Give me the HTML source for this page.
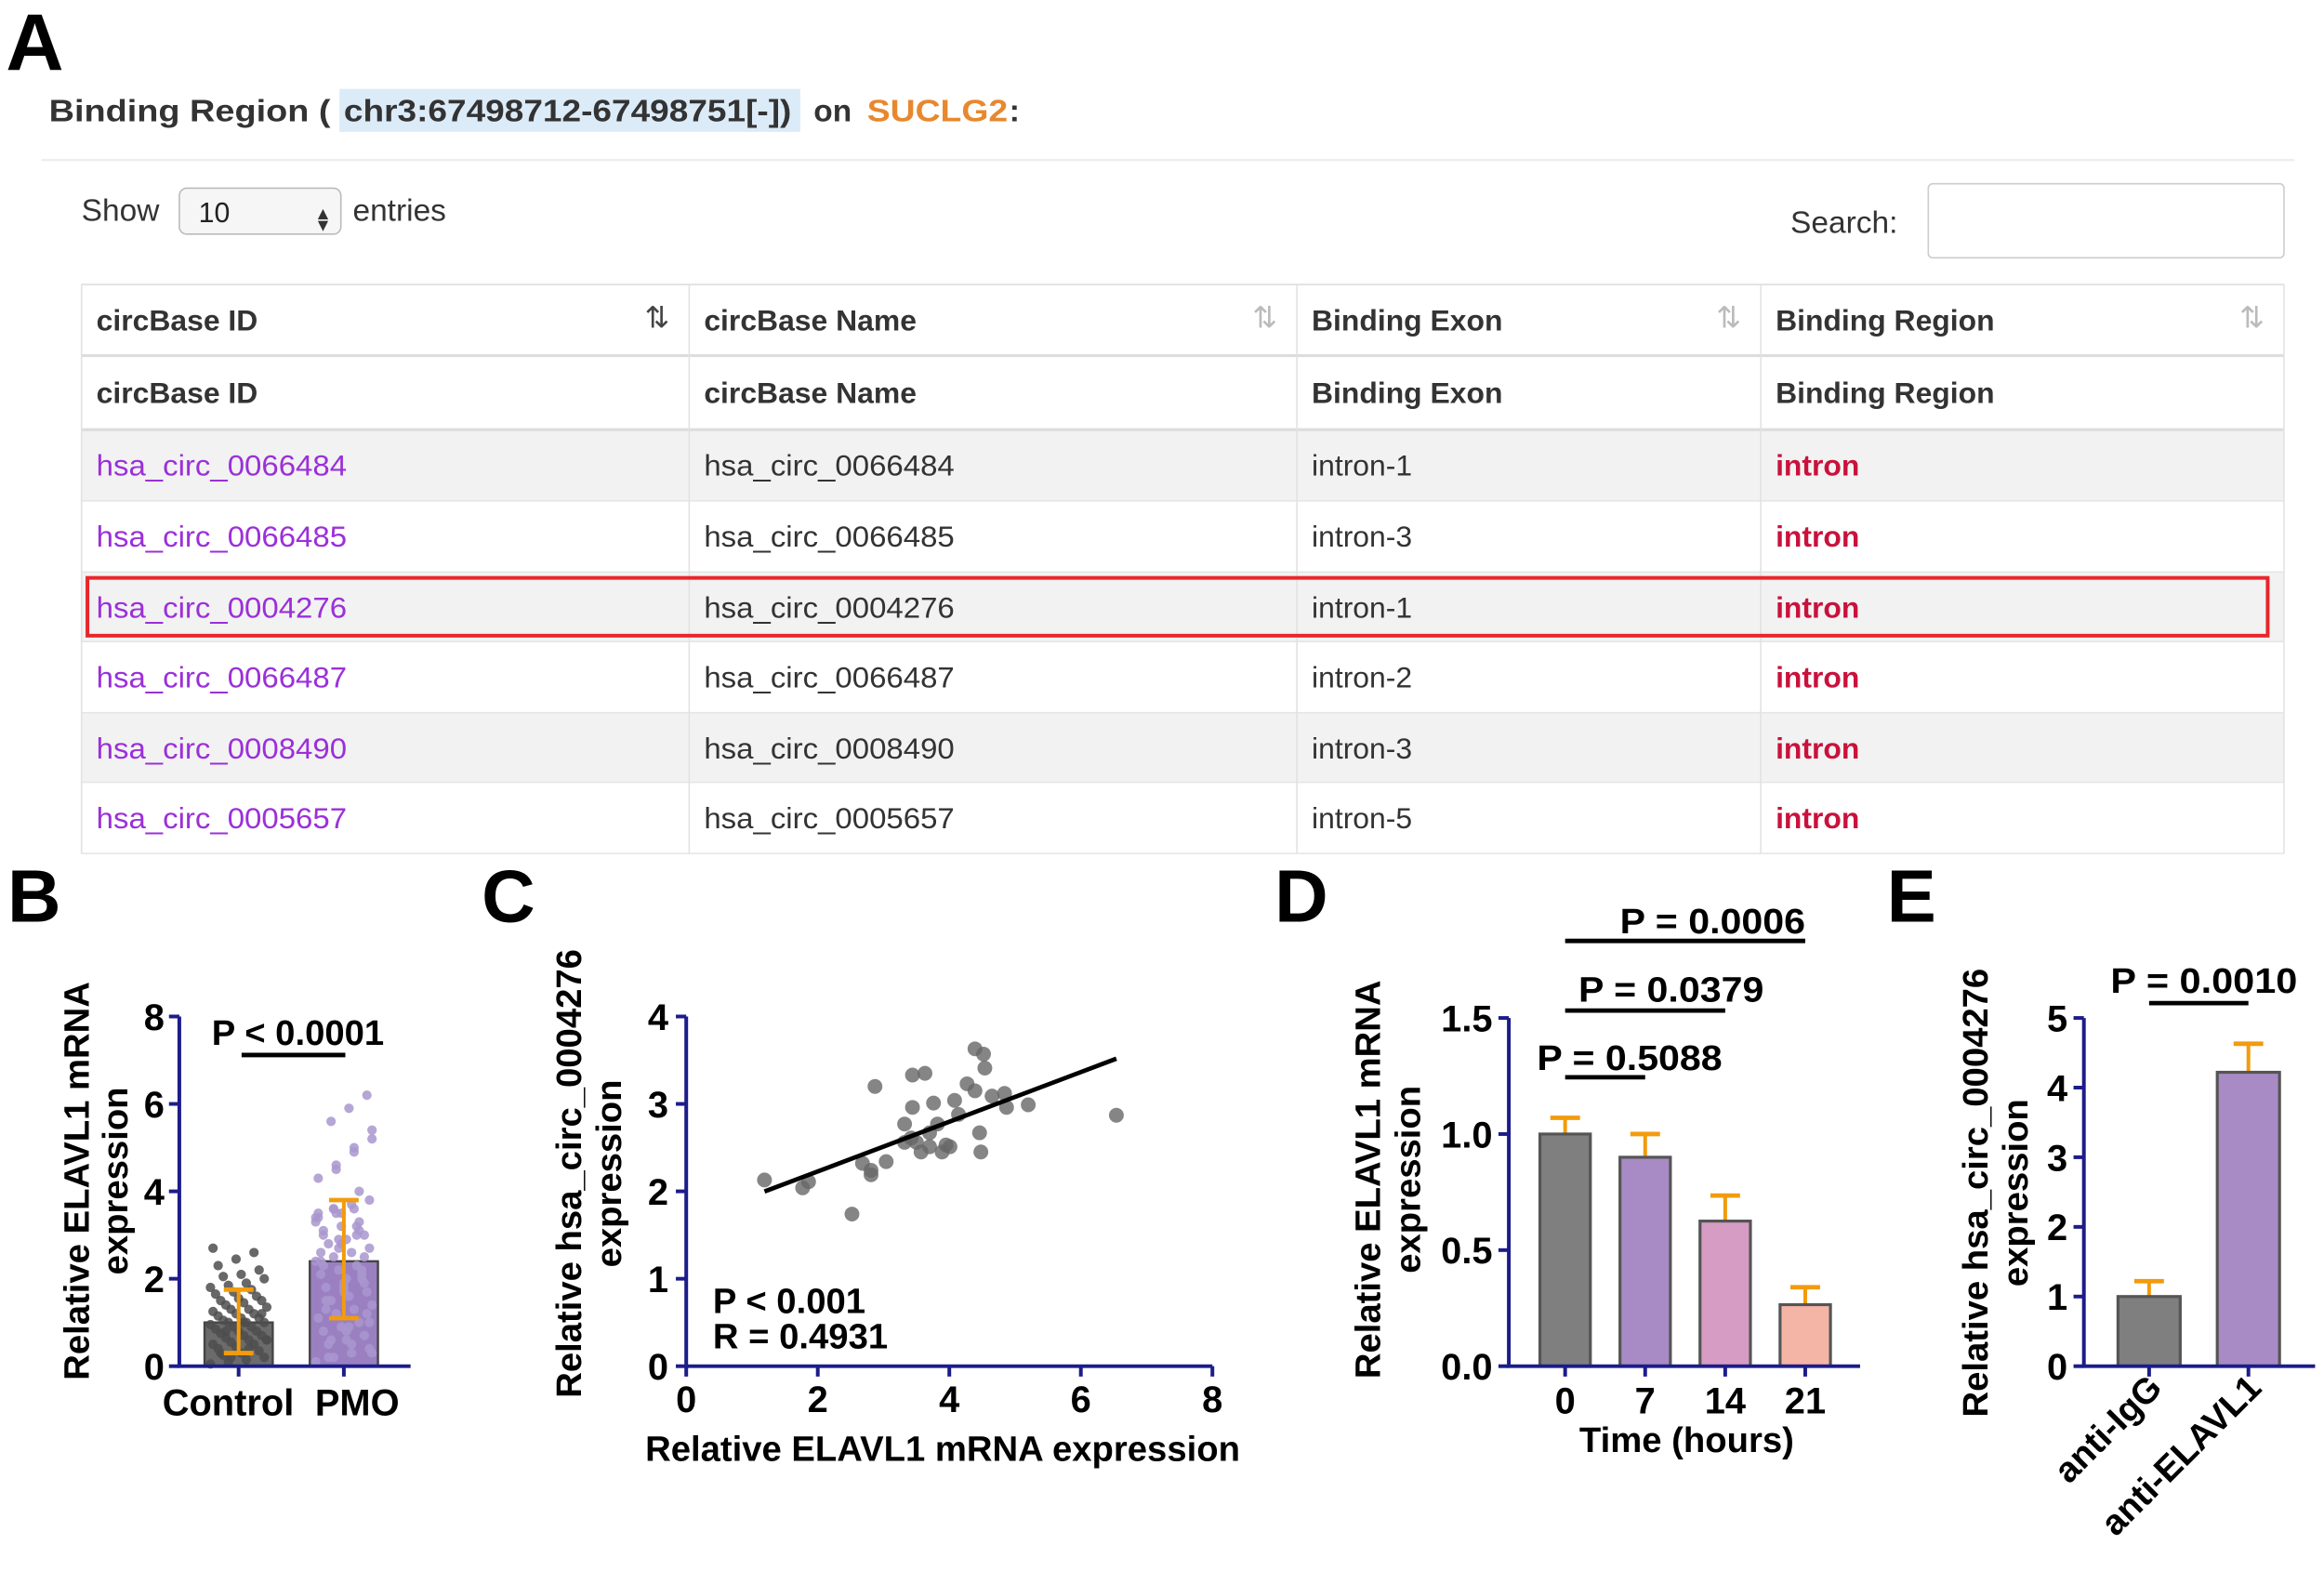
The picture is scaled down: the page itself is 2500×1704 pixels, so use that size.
<!DOCTYPE html>
<html><head><meta charset="utf-8">
<style>
html,body{margin:0;padding:0;background:#fff;}
svg{display:block;font-family:"Liberation Sans",Arial,sans-serif;}
</style></head>
<body>
<svg id="fig" width="2500" height="1704" viewBox="0 0 1568 1069" preserveAspectRatio="none">
<rect x="0" y="0" width="1568" height="1069" fill="#fff"/>
<text x="4" y="47" font-size="54" font-weight="bold" fill="#000">A</text>
<rect x="229" y="60" width="311" height="29" fill="#dcebf8"/>
<text y="82" font-size="21" font-weight="bold" fill="#333"><tspan x="33" textLength="190" lengthAdjust="spacingAndGlyphs">Binding Region (</tspan><tspan x="232" textLength="302" lengthAdjust="spacingAndGlyphs">chr3:67498712-67498751[-])</tspan><tspan x="549">on</tspan><tspan x="585" fill="#e8882e" textLength="95" lengthAdjust="spacingAndGlyphs">SUCLG2</tspan><tspan x="681">:</tspan></text>
<line x1="28" y1="108" x2="1548" y2="108" stroke="#eee" stroke-width="1.5"/>
<text x="55" y="149" font-size="21" fill="#333">Show</text>
<rect x="121" y="127" width="109" height="31" rx="5" fill="#f6f6f6" stroke="#bbb"/>
<text x="134" y="150" font-size="19" fill="#222">10</text>
<text x="212" y="148" font-size="12" fill="#333">▲</text>
<text x="212" y="156" font-size="12" fill="#333">▼</text>
<text x="238" y="149" font-size="21" fill="#333">entries</text>
<text x="1208" y="157" font-size="21" fill="#333">Search:</text>
<rect x="1301" y="124" width="240" height="50" rx="3" fill="#fff" stroke="#ccc"/>
<g id="table"></g>
<text x="5" y="622" font-size="50" font-weight="bold">B</text>
<text x="325" y="622" font-size="50" font-weight="bold">C</text>
<text x="860" y="622" font-size="50" font-weight="bold">D</text>
<text x="1273" y="622" font-size="50" font-weight="bold">E</text>
<g id="chartB"></g>
<g id="chartC"></g>
<g id="chartD"></g>
<g id="chartE"></g>
</svg>
<script>
const tableIds = ["hsa_circ_0066484","hsa_circ_0066485","hsa_circ_0004276","hsa_circ_0066487","hsa_circ_0008490","hsa_circ_0005657"];
const tableExons = ["intron-1","intron-3","intron-1","intron-2","intron-3","intron-5"];
const tableCols = ["circBase ID","circBase Name","Binding Exon","Binding Region"];

const bCategories = ["Control","PMO"];
const bMeans = [1.0, 2.4];
const bSdHigh = [1.75, 3.8];
const bSdLow = [0.3, 1.1];
const bControlPoints = [0.05,0.1,0.15,0.2,0.25,0.3,0.35,0.4,0.45,0.5,0.5,0.55,0.6,0.6,0.65,0.7,0.7,0.75,0.8,0.8,0.85,0.9,0.9,0.95,1.0,1.0,1.0,1.05,1.1,1.1,1.15,1.2,1.2,1.25,1.3,1.3,1.35,1.4,1.45,1.5,1.5,1.55,1.6,1.65,1.7,1.75,1.8,1.85,1.9,2.0,2.05,2.1,2.2,2.3,2.45,2.6,2.7,0.2,0.4,0.6,0.8,1.0,1.2,0.3];
const bPmoPoints = [0.1,0.2,0.3,0.4,0.5,0.6,0.7,0.8,0.9,1.0,1.1,1.2,1.3,1.4,1.5,1.6,1.7,1.8,1.9,2.0,2.1,2.2,2.3,2.4,2.5,2.6,2.7,2.8,2.9,3.0,3.1,3.2,3.3,3.4,3.5,3.6,0.3,0.6,0.9,1.2,1.5,1.8,2.1,2.4,2.7,3.0,3.3,3.6,0.5,1.0,1.5,2.0,2.5,3.0,3.5,4.0,4.3,4.6,4.9,5.2,5.6,5.9,6.2,1.3,1.7,2.2,2.6,2.9,3.2,3.4,3.6,3.7,3.8,0.2,0.8,1.9,2.3,2.8,3.1,3.5,4.5,5.0,5.4];

const cX = [1.19,1.77,1.86,2.52,2.68,2.81,2.87,3.04,3.32,3.44,3.63,3.44,3.42,3.57,3.5,3.7,3.76,3.82,3.89,3.95,4.01,4.08,4.14,4.27,4.39,4.52,4.54,4.39,4.46,4.48,4.65,4.84,4.87,5.2,6.54,3.7,3.32,2.81];
const cY = [2.13,2.04,2.11,1.74,2.32,2.19,3.2,2.34,2.77,3.33,3.35,2.96,2.61,2.45,2.56,2.67,3.01,2.77,2.45,2.53,2.51,3.04,2.88,3.23,3.63,3.57,3.41,3.15,2.67,2.45,3.09,3.12,2.96,2.99,2.87,2.51,2.56,2.24];
const cLine = [1.19, 6.54];
const cFit = [1.66, 0.284];
const cXTicks = [0,2,4,6,8];
const cYTicks = [0,1,2,3,4];

const dCategories = ["0","7","14","21"];
const dMeans = [1.0, 0.90, 0.625, 0.265];
const dErr = [1.07, 1.0, 0.735, 0.34];
const dYTicks = ["0.0","0.5","1.0","1.5"];
const dColors = ["#7f7f7f","#a88bc4","#d69cc4","#f5b5a6"];

const eCategories = ["anti-IgG","anti-ELAVL1"];
const eMeans = [1.0, 4.22];
const eErr = [1.22, 4.63];
const eYTicks = [0,1,2,3,4,5];

const svg = document.getElementById('fig');
const NS = svg.namespaceURI;
function mk(tag, a, parent){ const e=document.createElementNS(NS,tag); for(const k in a) e.setAttribute(k,a[k]); parent.appendChild(e); return e; }
function tx(parent, x, y, s, a){ const e=mk('text', Object.assign({x:x,y:y},a||{}), parent); e.textContent=s; return e; }
const AX = "#1c1c8a";
const ORANGE = "#f29b0c";

(function(){
  const g=document.getElementById('table');
  const colX=[55,465,875,1188,1541];
  const rowY=[192,240,290,338,386,433,481,528,576];
  for(let r=2;r<8;r++){
    if((r-2)%2===0){
      const bg=mk('rect',{x:55,y:rowY[r],width:1486,height:rowY[r+1]-rowY[r],fill:'#f2f2f2'},g);
      
      
    }
  }
  for(let r=0;r<rowY.length;r++){
    const l=mk('line',{x1:55,x2:1541,y1:rowY[r],y2:rowY[r],stroke:(r<=2?'#ddd':'#e6e6e6'),'stroke-width':(r===1||r===2?2:1)},g);
    
    
  }
  for(let c=0;c<colX.length;c++){
    const l=mk('line',{x1:colX[c],x2:colX[c],y1:192,y2:576,stroke:'#e2e2e2','stroke-width':1},g);
    
    
  }
  for(let c=0;c<4;c++){
    const h=tx(g,colX[c]+10,223,tableCols[c],{'font-size':20,'font-weight':'bold',fill:'#333'});
    
    
    const s=tx(g,colX[c+1]-30,221,'⇅',{'font-size':20,fill:(c===0?'#444':'#bbb')});
    
    
    const f=tx(g,colX[c]+10,272,tableCols[c],{'font-size':20,'font-weight':'bold',fill:'#333'});
    
    
  }
  for(let i=0;i<tableIds.length;i++){
    const y=rowY[i+2]+31;
    const a=tx(g,65,y,tableIds[i],{'font-size':20,fill:'#9b30d9',textLength:169,lengthAdjust:'spacingAndGlyphs'});
    
    
    const b=tx(g,475,y,tableIds[i],{'font-size':20,fill:'#333',textLength:169,lengthAdjust:'spacingAndGlyphs'});
    
    
    const c=tx(g,885,y,tableExons[i],{'font-size':20,fill:'#333'});
    
    
    const d=tx(g,1198,y,'intron',{'font-size':20,'font-weight':'bold',fill:'#c8123c'});
    
    
  }
  const box=mk('rect',{x:59,y:390,width:1471,height:39,fill:'none',stroke:'#e8262c','stroke-width':2.5},g);
  
  
})();

(function(){
  const g=document.getElementById('chartB');
  const x0=121,x1=277,y0=922,yTop=686,ymax=8;
  const ys=v=>y0-(v/ymax)*(y0-yTop);
  const cx=[161,232], bw=46;
  const fills=['#6b6b6b','#9a80c0'];
  for(let i=0;i<2;i++){
    const b=mk('rect',{x:cx[i]-bw/2,y:ys(bMeans[i]),width:bw,height:y0-ys(bMeans[i]),fill:fills[i],stroke:'#444','stroke-width':1.5},g);
    
    
  }
  const sets=[bControlPoints,bPmoPoints], dc=['#4d4d4d','#a996cf'];
  for(let i=0;i<2;i++){
    sets[i].forEach((v,j)=>{
      const off=(((j*53)%23)-11)/11*19;
      const p=mk('circle',{cx:cx[i]+off,cy:ys(v),r:3.2,fill:dc[i],opacity:0.85},g);
      
      
    });
  }
  for(let i=0;i<2;i++){
    const e=mk('line',{x1:cx[i],x2:cx[i],y1:ys(bSdHigh[i]),y2:ys(bSdLow[i]),stroke:ORANGE,'stroke-width':2.5},g);
    
    
    [bSdHigh[i],bSdLow[i]].forEach(v=>{
      const c=mk('line',{x1:cx[i]-10,x2:cx[i]+10,y1:ys(v),y2:ys(v),stroke:ORANGE,'stroke-width':3},g);
      
      
    });
  }
  const ax=mk('path',{d:`M${x0},${yTop} V${y0} H${x1}`,fill:'none',stroke:AX,'stroke-width':2.5},g);
  
  
  [0,2,4,6,8].forEach(v=>{
    const t=mk('line',{x1:x0-7,x2:x0,y1:ys(v),y2:ys(v),stroke:AX,'stroke-width':2.5},g);
    
    
    const l=tx(g,x0-10,ys(v)+9,String(v),{'font-size':25,'font-weight':'bold','text-anchor':'end'});
    
    
  });
  const lx=[154,241];
  for(let i=0;i<2;i++){
    const t=mk('line',{x1:cx[i],x2:cx[i],y1:y0,y2:y0+7,stroke:AX,'stroke-width':2.5},g);
    
    
    const l=tx(g,lx[i],955,bCategories[i],{'font-size':25,'font-weight':'bold','text-anchor':'middle'});
    
    
  }
  const s=mk('line',{x1:163,x2:233,y1:712,y2:712,stroke:'#000','stroke-width':3},g);
  
  
  const st=tx(g,201,705,'P < 0.0001',{'font-size':24,'font-weight':'bold','text-anchor':'middle'});
  
  
  const t1=tx(g,0,0,'Relative ELAVL1 mRNA',{'font-size':24,'font-weight':'bold','text-anchor':'middle',transform:'translate(60,797) rotate(-90)'});
  
  
  const t2=tx(g,0,0,'expression',{'font-size':24,'font-weight':'bold','text-anchor':'middle',transform:'translate(86,797) rotate(-90)'});
  
  
})();

(function(){
  const g=document.getElementById('chartC');
  const x0=463,x1=818,y0=922,yTop=686;
  const xs=v=>x0+v/8*(x1-x0), ys=v=>y0-v/4*(y0-yTop);
  const ax=mk('path',{d:`M${x0},${yTop} V${y0} H${x1}`,fill:'none',stroke:AX,'stroke-width':2.5},g);
  
  
  cYTicks.forEach(v=>{
    const t=mk('line',{x1:x0-7,x2:x0,y1:ys(v),y2:ys(v),stroke:AX,'stroke-width':2.5},g);
    
    
    const l=tx(g,x0-12,ys(v)+9,String(v),{'font-size':25,'font-weight':'bold','text-anchor':'end'});
    
    
  });
  cXTicks.forEach(v=>{
    const t=mk('line',{x1:xs(v),x2:xs(v),y1:y0,y2:y0+7,stroke:AX,'stroke-width':2.5},g);
    
    
    const l=tx(g,xs(v),953,String(v),{'font-size':25,'font-weight':'bold','text-anchor':'middle'});
    
    
  });
  cX.forEach((v,i)=>{
    const p=mk('circle',{cx:xs(v),cy:ys(cY[i]),r:5,fill:'#666',opacity:0.8},g);
    
    
  });
  const f=v=>cFit[0]+cFit[1]*v;
  const rl=mk('line',{x1:xs(cLine[0]),y1:ys(f(cLine[0])),x2:xs(cLine[1]),y2:ys(f(cLine[1])),stroke:'#000','stroke-width':3},g);
  
  
  const a=tx(g,481,886,'P < 0.001',{'font-size':24,'font-weight':'bold'});
  
  
  const b=tx(g,481,910,'R = 0.4931',{'font-size':24,'font-weight':'bold'});
  
  
  const t1=tx(g,0,0,'Relative hsa_circ_0004276',{'font-size':24,'font-weight':'bold','text-anchor':'middle',transform:'translate(392,792) rotate(-90)'});
  
  
  const t2=tx(g,0,0,'expression',{'font-size':24,'font-weight':'bold','text-anchor':'middle',transform:'translate(419,792) rotate(-90)'});
  
  
  const xt=tx(g,636,986,'Relative ELAVL1 mRNA expression',{'font-size':24,'font-weight':'bold','text-anchor':'middle'});
  
  
})();

(function(){
  const g=document.getElementById('chartD');
  const x0=1018,x1=1255,y0=922,yTop=687;
  const ys=v=>y0-v/1.5*(y0-yTop);
  const cx=i=>1056+i*54, bw=34;
  dMeans.forEach((v,i)=>{
    const e=mk('line',{x1:cx(i),x2:cx(i),y1:ys(dErr[i]),y2:ys(v),stroke:ORANGE,'stroke-width':2.5},g);
    
    
    const c=mk('line',{x1:cx(i)-10,x2:cx(i)+10,y1:ys(dErr[i]),y2:ys(dErr[i]),stroke:ORANGE,'stroke-width':3},g);
    
    
    const b=mk('rect',{x:cx(i)-bw/2,y:ys(v),width:bw,height:y0-ys(v),fill:dColors[i],stroke:'#555','stroke-width':2},g);
    
    
  });
  const ax=mk('path',{d:`M${x0},${yTop} V${y0} H${x1}`,fill:'none',stroke:AX,'stroke-width':2.5},g);
  
  
  dYTicks.forEach(s=>{
    const v=parseFloat(s);
    const t=mk('line',{x1:x0-7,x2:x0,y1:ys(v),y2:ys(v),stroke:AX,'stroke-width':2.5},g);
    
    
    const l=tx(g,x0-11,ys(v)+9,s,{'font-size':25,'font-weight':'bold','text-anchor':'end'});
    
    
  });
  dCategories.forEach((s,i)=>{
    const t=mk('line',{x1:cx(i),x2:cx(i),y1:y0,y2:y0+7,stroke:AX,'stroke-width':2.5},g);
    
    
    const l=tx(g,cx(i),954,s,{'font-size':25,'font-weight':'bold','text-anchor':'middle'});
    
    
  });
  const sig=[['P = 0.5088',1,727,1037,722],['P = 0.0379',2,682,1065,676],['P = 0.0006',3,635,1093,630]];
  sig.forEach(s=>{
    const l=mk('line',{x1:cx(0),x2:cx(s[1]),y1:s[2],y2:s[2],stroke:'#000','stroke-width':3},g);
    
    
    const t=tx(g,s[3],s[4],s[0],{'font-size':24,'font-weight':'bold',textLength:125,lengthAdjust:'spacingAndGlyphs'});
    
    
  });
  const t1=tx(g,0,0,'Relative ELAVL1 mRNA',{'font-size':24,'font-weight':'bold','text-anchor':'middle',transform:'translate(931,796) rotate(-90)'});
  
  
  const t2=tx(g,0,0,'expression',{'font-size':24,'font-weight':'bold','text-anchor':'middle',transform:'translate(958,796) rotate(-90)'});
  
  
  const xt=tx(g,1138,980,'Time (hours)',{'font-size':24,'font-weight':'bold','text-anchor':'middle'});
  
  
})();

(function(){
  const g=document.getElementById('chartE');
  const x0=1406,x1=1562,y0=922,yTop=687;
  const ys=v=>y0-v/5*(y0-yTop);
  const cx=[1450,1517], bw=42, fills=['#7f7f7f','#a88bc4'];
  eMeans.forEach((v,i)=>{
    const e=mk('line',{x1:cx[i],x2:cx[i],y1:ys(eErr[i]),y2:ys(v),stroke:ORANGE,'stroke-width':2.5},g);
    
    
    const c=mk('line',{x1:cx[i]-10,x2:cx[i]+10,y1:ys(eErr[i]),y2:ys(eErr[i]),stroke:ORANGE,'stroke-width':3},g);
    
    
    const b=mk('rect',{x:cx[i]-bw/2,y:ys(v),width:bw,height:y0-ys(v),fill:fills[i],stroke:'#555','stroke-width':2},g);
    
    
  });
  const ax=mk('path',{d:`M${x0},${yTop} V${y0} H${x1}`,fill:'none',stroke:AX,'stroke-width':2.5},g);
  
  
  eYTicks.forEach(v=>{
    const t=mk('line',{x1:x0-7,x2:x0,y1:ys(v),y2:ys(v),stroke:AX,'stroke-width':2.5},g);
    
    
    const l=tx(g,x0-11,ys(v)+9,String(v),{'font-size':25,'font-weight':'bold','text-anchor':'end'});
    
    
  });
  eCategories.forEach((s,i)=>{
    const t=mk('line',{x1:cx[i],x2:cx[i],y1:y0,y2:y0+7,stroke:AX,'stroke-width':2.5},g);
    
    
    const l=tx(g,0,0,s,{'font-size':24,'font-weight':'bold','text-anchor':'end',transform:`translate(${cx[i]+10},${y0+16}) rotate(-45)`});
    
    
  });
  const sl=mk('line',{x1:cx[0],x2:cx[1],y1:677,y2:677,stroke:'#000','stroke-width':3},g);
  
  
  const st=tx(g,1424,670,'P = 0.0010',{'font-size':24,'font-weight':'bold',textLength:126,lengthAdjust:'spacingAndGlyphs'});
  
  
  const t1=tx(g,0,0,'Relative hsa_circ_0004276',{'font-size':24,'font-weight':'bold','text-anchor':'middle',transform:'translate(1341,805) rotate(-90)'});
  
  
  const t2=tx(g,0,0,'expression',{'font-size':24,'font-weight':'bold','text-anchor':'middle',transform:'translate(1368,805) rotate(-90)'});
  
  
})();
</script>
</body></html>
